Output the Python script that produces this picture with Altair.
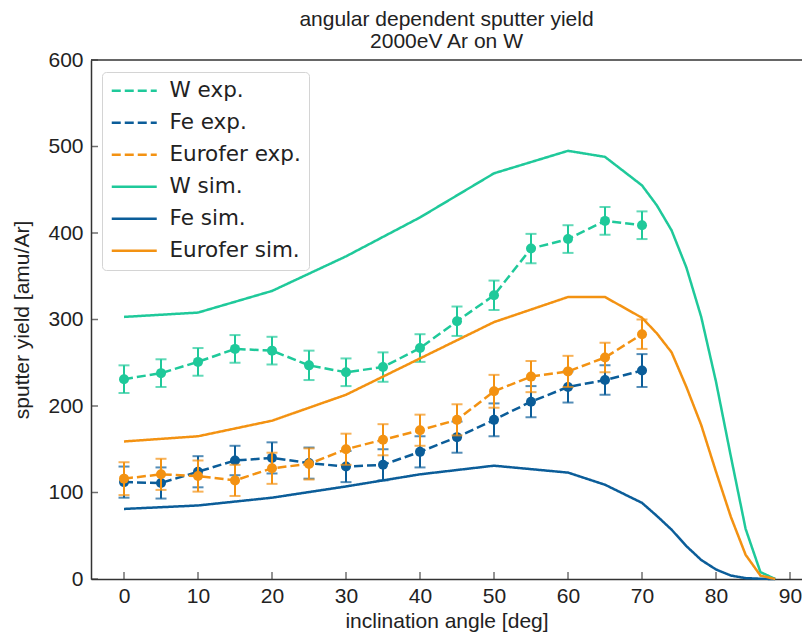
import altair as alt
import pandas as pd

# Measured sputter yields (amu/Ar) with error bars, 2000 eV Ar on W
exp_angles = [0, 5, 10, 15, 20, 25, 30, 35, 40, 45, 50, 55, 60, 65, 70]
w_exp = [231, 238, 251, 266, 264, 247, 239, 245, 267, 298, 328, 382, 393, 414, 409]
w_err = [16, 16, 16, 16, 16, 17, 16, 17, 16, 17, 17, 17, 16, 16, 16]
fe_exp = [112, 111, 124, 137, 140, 134, 130, 132, 147, 164, 184, 205, 222, 230, 241]
fe_err = [18, 18, 18, 17, 18, 18, 18, 18, 18, 18, 19, 18, 18, 17, 19]
eu_exp = [116, 121, 119, 114, 128, 133, 150, 161, 172, 184, 217, 234, 240, 256, 283]
eu_err = [19, 18, 18, 18, 18, 18, 18, 18, 18, 18, 19, 18, 18, 17, 17]

# Simulated yields
sim_angles = [0, 10, 20, 30, 40, 50, 60, 65, 70, 72, 74, 76, 78, 80, 82, 84, 86, 88]
w_sim = [303, 308, 333, 373, 418, 469, 495, 488, 455, 432, 403, 360, 303, 228, 142, 58, 8, 0]
fe_sim = [81, 85, 94, 107, 121, 131, 123, 109, 88, 73, 57, 38, 22, 11, 4, 1, 0.3, 0]
eu_sim = [159, 165, 183, 213, 255, 297, 326, 326, 302, 284, 262, 222, 178, 124, 72, 28, 4, 0]

labels = ["W exp.", "Fe exp.", "Eurofer exp.", "W sim.", "Fe sim.", "Eurofer sim."]
teal, blue, orange = "#1fc99a", "#0b5d99", "#f39212"
colors = [teal, blue, orange, teal, blue, orange]
dashes = [[9, 4], [9, 4], [9, 4], [1, 0], [1, 0], [1, 0]]

x_ticks = [0, 10, 20, 30, 40, 50, 60, 70, 80, 90]
y_ticks = [0, 100, 200, 300, 400, 500, 600]

rows = []
for lab, vals, errs in [("W exp.", w_exp, w_err), ("Fe exp.", fe_exp, fe_err),
                        ("Eurofer exp.", eu_exp, eu_err)]:
    for a, v, e in zip(exp_angles, vals, errs):
        rows.append({"label": lab, "angle": a, "value": v, "lo": v - e, "hi": v + e})
exp_df = pd.DataFrame(rows)

rows = []
for lab, vals in [("W sim.", w_sim), ("Fe sim.", fe_sim), ("Eurofer sim.", eu_sim)]:
    for a, v in zip(sim_angles, vals):
        rows.append({"label": lab, "angle": a, "value": v})
sim_df = pd.DataFrame(rows)

W, H = 711, 519
FONT = "Liberation Sans"
FS = 21
AX = "#333333"

x_scale = alt.Scale(domain=[-4.46, 91.62], nice=False, zero=False)
y_scale = alt.Scale(domain=[0, 600], nice=False)

x_enc = alt.X("angle:Q", scale=x_scale,
              axis=alt.Axis(title="inclination angle [deg]", values=x_ticks, tickSize=0,
                            labelPadding=6, titlePadding=4, grid=False))
y_enc = alt.Y("value:Q", scale=y_scale,
              axis=alt.Axis(title="sputter yield [amu/Ar]", values=y_ticks, tickSize=0,
                            labelPadding=8, titlePadding=15, grid=False))

color_enc = alt.Color(
    "label:N",
    scale=alt.Scale(domain=labels, range=colors),
    legend=alt.Legend(
        title=None, orient="none", legendX=11, legendY=12,
        fillColor="white", strokeColor="#d4d4d4", cornerRadius=4, padding=8,
        symbolType="M-1,0H4", symbolSize=324, symbolStrokeWidth=2.5,
        labelFont="DejaVu Sans", labelFontSize=21.5, labelColor="#222222",
        rowPadding=9, labelOffset=38,
    ),
)
dash_enc = alt.StrokeDash("label:N", scale=alt.Scale(domain=labels, range=dashes))

layers = []
for lab, col in [("W exp.", teal), ("Fe exp.", blue), ("Eurofer exp.", orange)]:
    base = alt.Chart(exp_df).transform_filter(alt.datum.label == lab)
    line = base.mark_line(strokeWidth=2.5).encode(
        x=x_enc, y=y_enc, color=color_enc, strokeDash=dash_enc, detail="label:N")
    bar = base.mark_rule(strokeWidth=2, color=col).encode(
        x="angle:Q", y="lo:Q", y2="hi:Q")
    cap_lo = base.mark_tick(orient="horizontal", size=11, thickness=2, color=col).encode(
        x="angle:Q", y="lo:Q")
    cap_hi = base.mark_tick(orient="horizontal", size=11, thickness=2, color=col).encode(
        x="angle:Q", y="hi:Q")
    pts = base.mark_circle(size=100, opacity=1, color=col).encode(x="angle:Q", y="value:Q")
    layers += [line, bar, cap_lo, cap_hi, pts]

sim = alt.Chart(sim_df).mark_line(strokeWidth=2.5).encode(
    x=x_enc, y=y_enc, color=color_enc, strokeDash=dash_enc, detail="label:N")
layers.append(sim)

# inward-pointing tick marks
xt = alt.Chart(pd.DataFrame({"t": x_ticks})).mark_tick(
    orient="vertical", size=7, thickness=1.5, color=AX).encode(
    x=alt.X("t:Q", scale=x_scale), y=alt.value(H - 3.5))
yt = alt.Chart(pd.DataFrame({"t": y_ticks})).mark_tick(
    orient="horizontal", size=7, thickness=1.5, color=AX).encode(
    y=alt.Y("t:Q", scale=y_scale), x=alt.value(3.5))
# top frame line
top = alt.Chart(pd.DataFrame({"t": [0]})).mark_rule(color=AX, strokeWidth=1.5).encode(
    x=alt.value(0), x2=alt.value(W), y=alt.value(0))
layers += [xt, yt, top]

chart = alt.layer(*layers).properties(
    width=W, height=H,
    background="white",
    title=alt.TitleParams(
        ["angular dependent sputter yield", "2000eV Ar on W"],
        font=FONT, fontSize=FS, fontWeight="normal", color="#222222",
        anchor="middle", frame="group", offset=-3, lineHeight=22,
    ),
    autosize=alt.AutoSizeParams(type="none"),
    padding={"left": 91, "top": 60, "right": 0, "bottom": 56},
).configure_view(
    stroke=None,
).configure_axis(
    labelFont=FONT, labelFontSize=FS, labelColor="#222222",
    titleFont=FONT, titleFontSize=FS, titleFontWeight="normal", titleColor="#222222",
    domainColor=AX, domainWidth=1.5,
)

chart.save("out.html", embed_options={"renderer": "svg", "actions": False})
